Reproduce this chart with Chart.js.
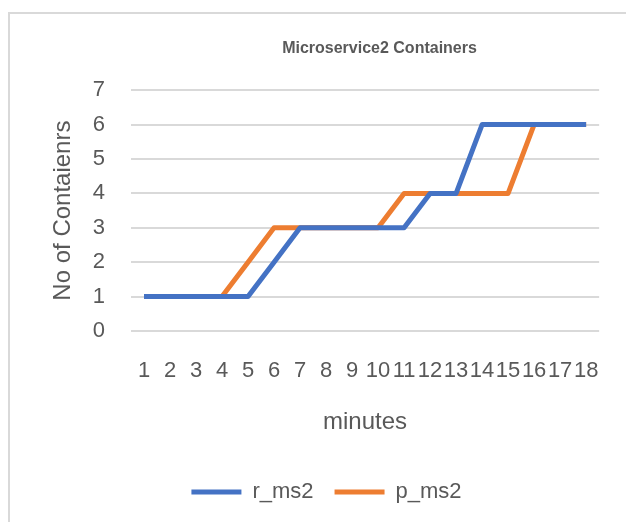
<!DOCTYPE html>
<html>
<head>
<meta charset="utf-8">
<script src="https://cdn.jsdelivr.net/npm/chart.js@4"></script>
<style>
  html, body { margin: 0; padding: 0; background: #fff; }
  #wrap { position: relative; width: 626px; height: 522px; overflow: hidden; }
  #frame { position: absolute; left: 8px; top: 12px; width: 700px; height: 600px; border: 2px solid #d9d9d9; box-sizing: border-box; }
  canvas { position: absolute; left: 0; top: 0; }
</style>
</head>
<body>
<div id="wrap">
  <div id="frame"></div>
  <canvas id="c" width="626" height="522"></canvas>
</div>
<script>
const categories = ['1','2','3','4','5','6','7','8','9','10','11','12','13','14','15','16','17','18'];
const r_ms2 = [1,1,1,1,1,2,3,3,3,3,3,4,4,6,6,6,6,6];
const p_ms2 = [1,1,1,1,2,3,3,3,3,3,4,4,4,4,4,6,6,6];
const yTicks = [0,1,2,3,4,5,6,7];

const FONT = "'Liberation Sans', Arial, sans-serif";
const TXT = '#595959';

const shiftPlugin = {
  id: 'shiftBlocks',
  afterLayout(chart) {
    const t = chart.titleBlock;
    if (t) { t.left += 73; t.right += 73; }
    const l = chart.legend;
    if (l) { l.left += 20; l.right += 20; }
  }
};

new Chart(document.getElementById('c'), {
  type: 'line',
  data: {
    labels: categories,
    datasets: [
      { label: 'r_ms2', data: r_ms2, borderColor: '#4472C4', backgroundColor: '#4472C4',
        borderWidth: 5, pointRadius: 0, tension: 0, borderJoinStyle: 'round', fill: false },
      { label: 'p_ms2', data: p_ms2, borderColor: '#ED7D31', backgroundColor: '#ED7D31',
        borderWidth: 5, pointRadius: 0, tension: 0, borderJoinStyle: 'round', fill: false }
    ]
  },
  options: {
    responsive: false,
    animation: false,
    layout: { padding: { left: 10, right: 23, top: 30, bottom: 9 } },
    plugins: {
      title: {
        display: true,
        text: 'Microservice2 Containers',
        color: TXT,
        font: { family: FONT, size: 16, weight: 'bold' },
        padding: { top: 9, bottom: 32 }
      },
      legend: {
        position: 'bottom',
        labels: {
          color: TXT,
          font: { family: FONT, size: 22 },
          boxWidth: 50,
          boxHeight: 5,
          padding: 21,
          generateLabels(chart) {
            const items = Chart.defaults.plugins.legend.labels.generateLabels(chart);
            items.forEach(i => { i.lineWidth = 0; });
            return items;
          }
        }
      },
      tooltip: { enabled: false }
    },
    scales: {
      x: {
        offset: true,
        grid: { display: false, drawTicks: false },
        border: { display: false },
        ticks: { color: TXT, font: { family: FONT, size: 22 }, padding: 27, autoSkip: false, maxRotation: 0, minRotation: 0 },
        title: { display: true, text: 'minutes', color: TXT, font: { family: FONT, size: 24 }, padding: { top: 0, bottom: 23 } },
        afterFit(s) { s.height = 129; }
      },
      y: {
        min: 0, max: 7,
        afterBuildTicks(s) { s.ticks = yTicks.map(v => ({ value: v })); },
        grid: { color: '#d9d9d9', lineWidth: 2, drawTicks: false },
        border: { display: false },
        ticks: { color: TXT, font: { family: FONT, size: 22 }, padding: 26 },
        title: { display: true, text: 'No of Contaienrs', color: TXT, font: { family: FONT, size: 24 }, padding: { top: 39, bottom: 0 } },
        afterFit(s) { s.width = 121; }
      }
    }
  },
  plugins: [shiftPlugin]
});
</script>
</body>
</html>
